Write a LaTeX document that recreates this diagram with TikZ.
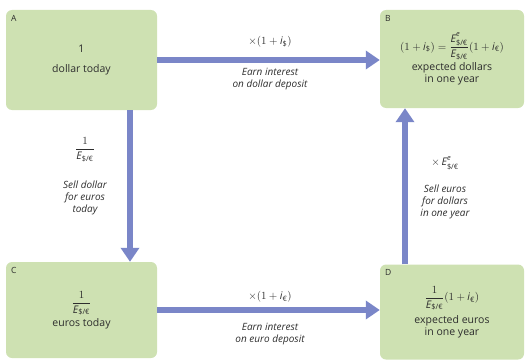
\documentclass[tikz,border=0pt]{standalone}
\usepackage{amsmath}
\usepackage{fontspec}
\setmainfont{Open Sans}
\usetikzlibrary{arrows.meta, positioning}
\definecolor{boxgreen}{RGB}{206,225,178}
\definecolor{flowblue}{RGB}{122,134,200}
\definecolor{inkgray}{RGB}{45,45,45}
\newcommand{\Er}{\mathit{E}_{\text{\$/€}}}
\newcommand{\Ee}{\mathit{E}^{\raisebox{1.5pt}{$\scriptstyle\mathit{e}$}}_{\text{\$/€}}}
\newcommand{\idol}{\mathit{i}_{\text{\$}}}
\newcommand{\ieur}{\mathit{i}_{\text{€}}}

\begin{document}
\begin{tikzpicture}[x=1pt, y=-1pt,
  every node/.style = {font=\fontsize{10.5}{12}\selectfont, text=inkgray, align=center},
  box/.style = {fill=boxgreen, rounded corners=6pt, inner sep=0pt},
  corner/.style = {anchor=north west, xshift=5pt, yshift=-5pt, inner sep=0pt,
    font=\fontsize{8.5}{9}\selectfont},
  flow/.style = {draw=flowblue, line width=6pt,
    -{Triangle[length=14pt, width=18pt]}},
  note/.style = {font=\fontsize{10}{12}\selectfont\itshape}]
  \useasboundingbox (0,0) rectangle (529,361);

  \node[box, minimum width=151pt, minimum height=100pt,
    label={[corner]north west:A}] (a) at (81.5,60) {1\\[8pt] dollar today};
  \node[box, minimum width=144pt, minimum height=98pt,
    label={[corner]north west:B}] (b) at (452,59)
    {$(1 + \idol) = \dfrac{\Ee}{\Er}(1 + \ieur)$\\[2pt] expected dollars\\ in one year};
  \node[box, minimum width=151pt, minimum height=96pt,
    label={[corner]north west:C}] (c) at (81.5,310) {$\dfrac{1}{\Er}$\\[2pt] euros today};
  \node[box, minimum width=144pt, minimum height=95pt,
    label={[corner]north west:D}] (d) at (452,312)
    {$\dfrac{1}{\Er}(1 + \ieur)$\\[4pt] expected euros\\ in one year};

  \draw[flow] (a.east) -- (a.east -| b.west);
  \draw[flow] ([xshift=48.5pt]a.south) -- ([xshift=48.5pt]c.north);
  \draw[flow] ([xshift=-47pt]d.north) -- ([xshift=-47pt]b.south);
  \draw[flow] (c.east) -- (c.east -| d.west);

  \node (ab) at (270,42) {$\times(1 + \idol)$};
  \node[note, below=14pt of ab] (abnote) {Earn interest\\ on dollar deposit};
  \node (ac) at (85,150) {$\dfrac{1}{\Er}$};
  \node[note, below=12pt of ac] (acnote) {Sell dollar\\ for euros\\ today};
  \node (db) at (445,163) {$\times\,\Ee$};
  \node[note, below=8pt of db] (dbnote) {Sell euros\\ for dollars\\ in one year};
  \node (cd) at (270,297) {$\times(1 + \ieur)$};
  \node[note, below=14pt of cd] (cdnote) {Earn interest\\ on euro deposit};
\end{tikzpicture}
\end{document}
